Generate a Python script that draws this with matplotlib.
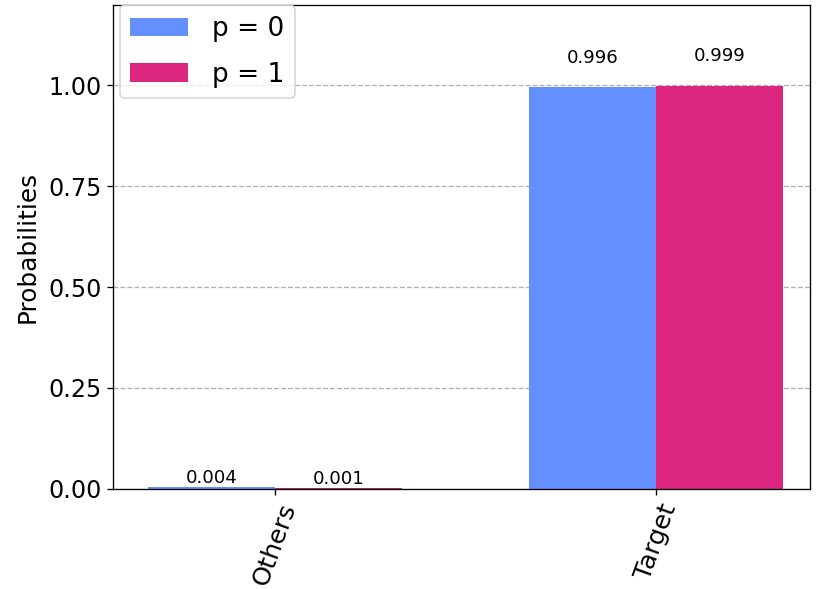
import matplotlib
matplotlib.use('Agg')
import matplotlib.pyplot as plt
import numpy as np

labels = ['Others', 'Target']
p0 = [0.004, 0.996]
p1 = [0.001, 0.999]
legend_labels = ['p = 0', 'p = 1']
colors = ['#648fff', '#dc267f']

dpi = 118.6
fig = plt.figure(figsize=(830 / dpi, 589 / dpi), dpi=dpi)
ax = fig.add_axes([0.136, 0.170, 0.840, 0.8215])

ind = np.arange(len(labels))
width = 1 / 3
for i, (vals, lab) in enumerate(zip([p0, p1], legend_labels)):
    rects = ax.bar(ind + i * width, vals, width, color=colors[i], label=lab,
                   linewidth=0, zorder=2)
    for r, v in zip(rects, vals):
        ax.text(r.get_x() + r.get_width() / 2, 1.05 * v, '%.3f' % v,
                ha='center', va='bottom', fontsize=11, zorder=3)

ax.set_xticks(ind + width / 2)
ax.set_xticklabels(labels, fontsize=15.5, rotation=70)
ax.set_xlim(-0.2585, 1.571)
ax.set_ylim(0, 1.2 * max(p0 + p1))
ax.set_yticks([0, 0.25, 0.5, 0.75, 1.0])
ax.set_yticklabels(['0.00', '0.25', '0.50', '0.75', '1.00'], fontsize=14.5)
ax.set_ylabel('Probabilities', fontsize=15, labelpad=5)
ax.grid(axis='y', linestyle='--', color='#b0b0b0', zorder=0)
ax.set_axisbelow(True)
ax.legend(loc='upper left', fontsize=16, handlelength=2.2, handletextpad=0.9,
          labelspacing=0.75, borderaxespad=0.0, bbox_to_anchor=(0.01, 0.999))

fig.savefig('out.png', dpi=dpi)
